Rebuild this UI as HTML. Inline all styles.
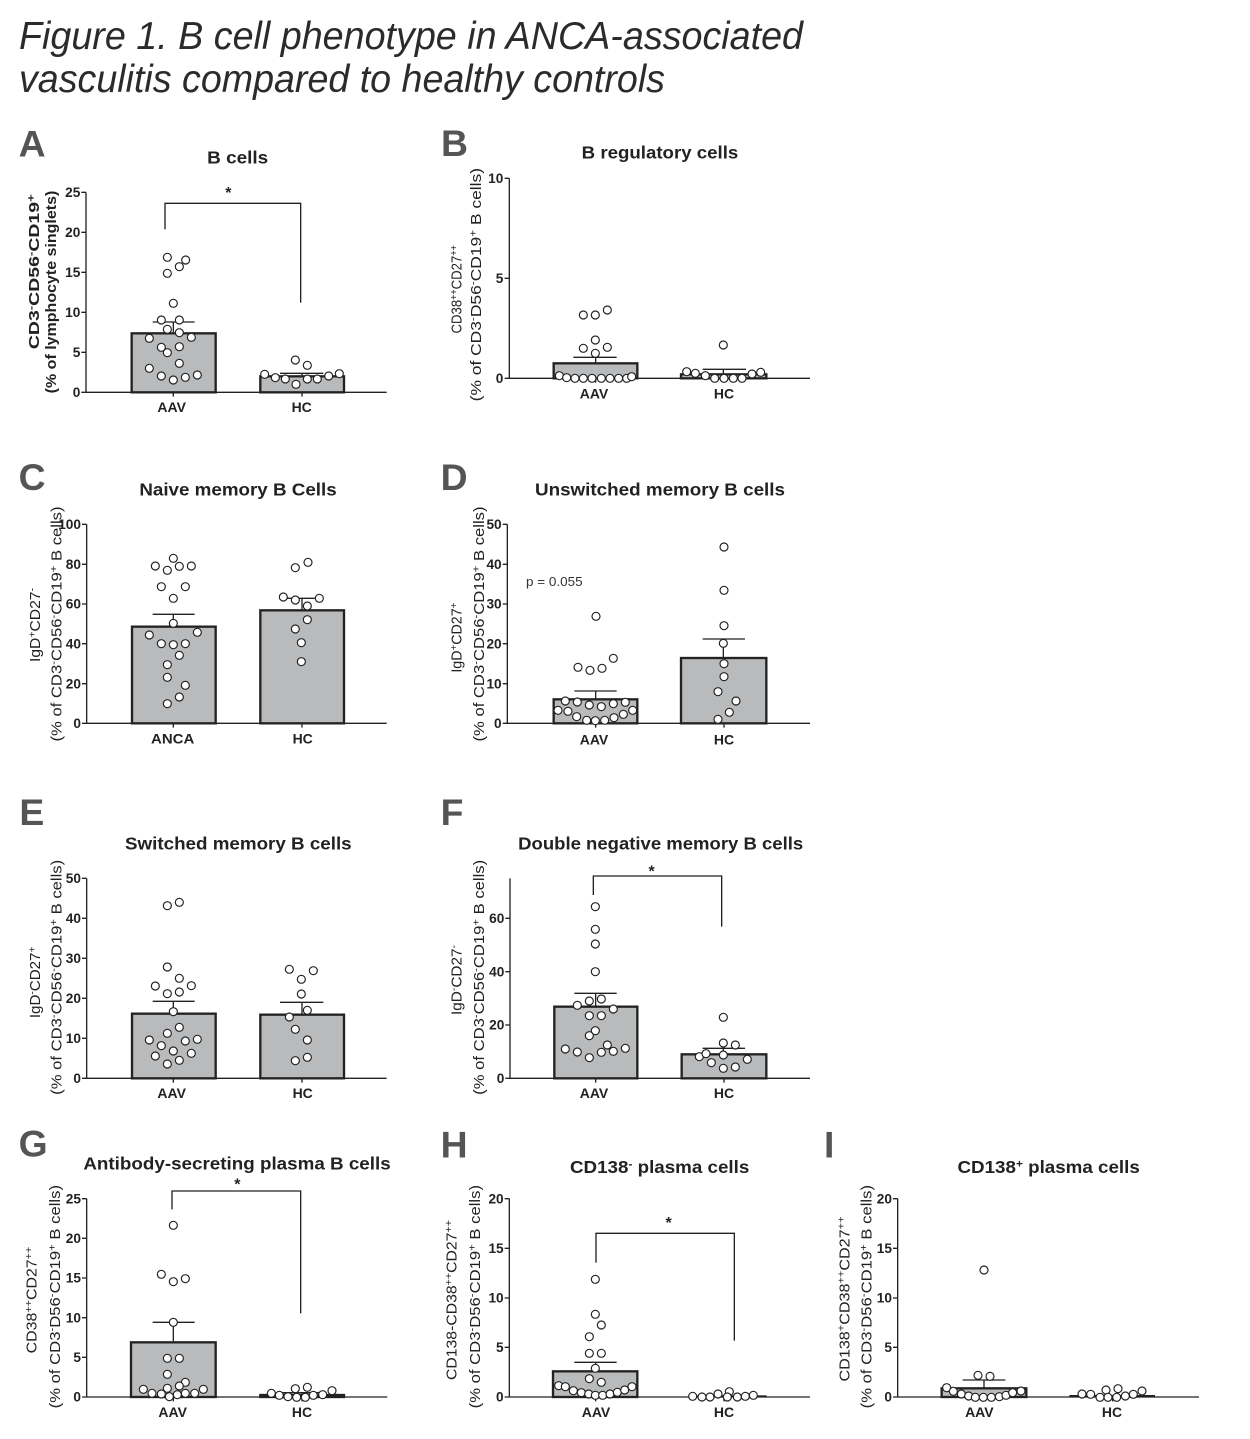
<!DOCTYPE html>
<html><head><meta charset="utf-8"><style>
html,body{margin:0;padding:0;background:#fff}
svg{display:block}
text{font-family:"Liberation Sans",Arial,sans-serif;fill:#222}
.ax{stroke:#222;stroke-width:4;fill:none}
.bar{fill:#b8babc;stroke:#222;stroke-width:7}
.pt circle{fill:#fff;stroke:#222;stroke-width:3.5}
.tk text{font-size:41px;font-weight:bold;text-anchor:end}
.cat{font-size:42px;font-weight:bold;text-anchor:middle}
.ttl{font-size:54px;font-weight:bold;text-anchor:middle}
.yl{font-size:44px;text-anchor:middle}
.ylb{font-size:44px;font-weight:bold;text-anchor:middle}
.lt{font-size:112px;font-weight:bold;fill:#555}
.star{font-size:48px;font-weight:bold;text-anchor:middle}
</style></head><body>
<svg width="1250" height="1439" viewBox="0 0 1250 1439" xmlns="http://www.w3.org/2000/svg">
<rect width="1250" height="1439" fill="#fff"/>
<text x="19" y="49" font-size="39" font-style="italic" style="fill:#2b2b2b" textLength="784" lengthAdjust="spacingAndGlyphs">Figure 1. B cell phenotype in ANCA-associated</text>
<text x="19" y="92" font-size="39" font-style="italic" style="fill:#2b2b2b" textLength="646" lengthAdjust="spacingAndGlyphs">vasculitis compared to healthy controls</text>

<!-- Panel A -->
<g transform="translate(0,120) scale(0.333333)">
<text class="lt" x="56" y="110">A</text>
<text class="ttl" x="713" y="131" textLength="183" lengthAdjust="spacingAndGlyphs">B cells</text>
<path class="ax" d="M258,217V817H1160M244,217H258M244,337H258M244,457H258M244,577H258M244,697H258M244,817H258M520,817V830M906,817V830"/>
<g class="tk"><text x="241" y="231">25</text><text x="241" y="351">20</text><text x="241" y="471">15</text><text x="241" y="591">10</text><text x="241" y="711">5</text><text x="241" y="831">0</text></g>
<rect class="bar" x="395" y="640" width="252" height="177"/>
<rect class="bar" x="781" y="769" width="251" height="48"/>
<path class="ax" d="M520,637V606M458,606H584M906,766V760M840,760H970"/>
<path class="ax" d="M495,328V250H902V548"/>
<text class="star" x="685" y="234">*</text>
<g class="pt">
<circle cx="502" cy="412" r="12"/><circle cx="557" cy="420" r="12"/><circle cx="538" cy="440" r="12"/><circle cx="502" cy="460" r="12"/><circle cx="520" cy="550" r="12"/><circle cx="484" cy="600" r="12"/><circle cx="538" cy="600" r="12"/><circle cx="502" cy="628" r="12"/><circle cx="538" cy="638" r="12"/><circle cx="574" cy="652" r="12"/><circle cx="448" cy="655" r="12"/><circle cx="484" cy="682" r="12"/><circle cx="538" cy="680" r="12"/><circle cx="502" cy="698" r="12"/><circle cx="538" cy="730" r="12"/><circle cx="448" cy="745" r="12"/><circle cx="484" cy="768" r="12"/><circle cx="520" cy="780" r="12"/><circle cx="556" cy="772" r="12"/><circle cx="592" cy="765" r="12"/>
<circle cx="794" cy="763" r="12"/><circle cx="826" cy="773" r="12"/><circle cx="856" cy="777" r="12"/><circle cx="886" cy="720" r="12"/><circle cx="922" cy="736" r="12"/><circle cx="888" cy="793" r="12"/><circle cx="922" cy="777" r="12"/><circle cx="952" cy="777" r="12"/><circle cx="986" cy="768" r="12"/><circle cx="1018" cy="761" r="12"/>
</g>
<text class="ylb" transform="translate(117,455) rotate(-90)" textLength="465" lengthAdjust="spacingAndGlyphs">CD3<tspan dy="-14" font-size="30">-</tspan><tspan dy="14">CD56</tspan><tspan dy="-14" font-size="30">-</tspan><tspan dy="14">CD19</tspan><tspan dy="-14" font-size="30">+</tspan></text>
<text class="ylb" transform="translate(168,516) rotate(-90)" textLength="608" lengthAdjust="spacingAndGlyphs">(% of lymphocyte singlets)</text>
<text class="cat" x="515" y="876">AAV</text><text class="cat" x="905" y="876">HC</text>
</g>

<!-- Panel B -->
<g transform="translate(420,120) scale(0.333333)">
<text class="lt" x="63" y="108">B</text>
<text class="ttl" x="720" y="116" textLength="470" lengthAdjust="spacingAndGlyphs">B regulatory cells</text>
<path class="ax" d="M268,175V775H1170M254,175H268M254,475H268M254,775H268M527,775V788M910,775V788"/>
<g class="tk"><text x="250" y="189">10</text><text x="250" y="489">5</text><text x="250" y="789">0</text></g>
<rect class="bar" x="401" y="730" width="251" height="45"/>
<rect class="bar" x="783" y="763" width="256" height="12"/>
<path class="ax" d="M527,727V712M460,712H590M910,760V748M848,748H978"/>
<g class="pt">
<circle cx="490" cy="585" r="12"/><circle cx="526" cy="585" r="12"/><circle cx="562" cy="570" r="12"/><circle cx="526" cy="660" r="12"/><circle cx="490" cy="685" r="12"/><circle cx="562" cy="682" r="12"/><circle cx="526" cy="700" r="12"/><circle cx="418" cy="767" r="12"/><circle cx="440" cy="773" r="12"/><circle cx="465" cy="775" r="12"/><circle cx="490" cy="775" r="12"/><circle cx="516" cy="775" r="12"/><circle cx="544" cy="775" r="12"/><circle cx="570" cy="775" r="12"/><circle cx="596" cy="775" r="12"/><circle cx="620" cy="775" r="12"/><circle cx="635" cy="770" r="12"/>
<circle cx="910" cy="675" r="12"/><circle cx="800" cy="755" r="12"/><circle cx="826" cy="760" r="12"/><circle cx="856" cy="767" r="12"/><circle cx="884" cy="775" r="12"/><circle cx="912" cy="775" r="12"/><circle cx="940" cy="775" r="12"/><circle cx="966" cy="775" r="12"/><circle cx="996" cy="762" r="12"/><circle cx="1022" cy="757" r="12"/>
</g>
<text class="yl" transform="translate(125,508) rotate(-90)" textLength="265" lengthAdjust="spacingAndGlyphs">CD38<tspan dy="-14" font-size="30">++</tspan><tspan dy="14">CD27</tspan><tspan dy="-14" font-size="30">++</tspan></text>
<text class="yl" transform="translate(183,494) rotate(-90)" textLength="700" lengthAdjust="spacingAndGlyphs">(% of CD3<tspan dy="-14" font-size="30">-</tspan><tspan dy="14">D56</tspan><tspan dy="-14" font-size="30">-</tspan><tspan dy="14">CD19</tspan><tspan dy="-14" font-size="30">+</tspan><tspan dy="14"> B cells)</tspan></text>
<text class="cat" x="522" y="836">AAV</text><text class="cat" x="912" y="836">HC</text>
</g>

<!-- Panel C -->
<g transform="translate(0,455) scale(0.333333)">
<text class="lt" x="56" y="105">C</text>
<text class="ttl" x="714" y="121" textLength="592" lengthAdjust="spacingAndGlyphs">Naive memory B Cells</text>
<path class="ax" d="M260,208V805H1160M246,208H260M246,328H260M246,447H260M246,566H260M246,686H260M246,805H260M520,805V818M906,805V818"/>
<g class="tk"><text x="243" y="222">100</text><text x="243" y="342">80</text><text x="243" y="461">60</text><text x="243" y="580">40</text><text x="243" y="700">20</text><text x="243" y="819">0</text></g>
<rect class="bar" x="396" y="515" width="251" height="290"/>
<rect class="bar" x="781" y="466" width="251" height="339"/>
<path class="ax" d="M520,512V478M458,478H584M906,463V430M840,430H970"/>
<g class="pt">
<circle cx="520" cy="310" r="12"/><circle cx="466" cy="333" r="12"/><circle cx="502" cy="346" r="12"/><circle cx="538" cy="334" r="12"/><circle cx="574" cy="333" r="12"/><circle cx="484" cy="395" r="12"/><circle cx="556" cy="395" r="12"/><circle cx="520" cy="430" r="12"/><circle cx="520" cy="505" r="12"/><circle cx="448" cy="540" r="12"/><circle cx="592" cy="532" r="12"/><circle cx="484" cy="566" r="12"/><circle cx="520" cy="569" r="12"/><circle cx="556" cy="566" r="12"/><circle cx="538" cy="601" r="12"/><circle cx="502" cy="629" r="12"/><circle cx="502" cy="667" r="12"/><circle cx="556" cy="691" r="12"/><circle cx="538" cy="726" r="12"/><circle cx="502" cy="746" r="12"/>
<circle cx="924" cy="322" r="12"/><circle cx="886" cy="338" r="12"/><circle cx="850" cy="426" r="12"/><circle cx="886" cy="435" r="12"/><circle cx="958" cy="430" r="12"/><circle cx="922" cy="453" r="12"/><circle cx="922" cy="494" r="12"/><circle cx="886" cy="522" r="12"/><circle cx="904" cy="563" r="12"/><circle cx="904" cy="620" r="12"/>
</g>
<text class="yl" transform="translate(120,510) rotate(-90)" textLength="222" lengthAdjust="spacingAndGlyphs">IgD<tspan dy="-14" font-size="30">+</tspan><tspan dy="14">CD27</tspan><tspan dy="-14" font-size="30">-</tspan></text>
<text class="yl" transform="translate(185,507) rotate(-90)" textLength="705" lengthAdjust="spacingAndGlyphs">(% of CD3<tspan dy="-14" font-size="30">-</tspan><tspan dy="14">CD56</tspan><tspan dy="-14" font-size="30">-</tspan><tspan dy="14">CD19</tspan><tspan dy="-14" font-size="30">+</tspan><tspan dy="14"> B cells)</tspan></text>
<text class="cat" x="518" y="866" textLength="130" lengthAdjust="spacingAndGlyphs">ANCA</text><text class="cat" x="908" y="866">HC</text>
</g>

<!-- Panel D -->
<g transform="translate(420,455) scale(0.333333)">
<text class="lt" x="62" y="105">D</text>
<text class="ttl" x="720" y="121" textLength="750" lengthAdjust="spacingAndGlyphs">Unswitched memory B cells</text>
<path class="ax" d="M262,208V805H1170M248,208H262M248,328H262M248,447H262M248,566H262M248,686H262M248,805H262M527,805V818M912,805V818"/>
<g class="tk"><text x="245" y="222">50</text><text x="245" y="342">40</text><text x="245" y="461">30</text><text x="245" y="580">20</text><text x="245" y="700">10</text><text x="245" y="819">0</text></g>
<text x="318" y="393" font-size="38" textLength="170" lengthAdjust="spacingAndGlyphs" style="fill:#333">p = 0.055</text>
<rect class="bar" x="401" y="733" width="251" height="72"/>
<rect class="bar" x="783" y="609" width="256" height="196"/>
<path class="ax" d="M527,730V708M463,708H590M910,606V552M848,552H975"/>
<g class="pt">
<circle cx="528" cy="484" r="12"/><circle cx="474" cy="637" r="12"/><circle cx="510" cy="646" r="12"/><circle cx="546" cy="640" r="12"/><circle cx="580" cy="610" r="12"/><circle cx="436" cy="738" r="12"/><circle cx="472" cy="741" r="12"/><circle cx="508" cy="750" r="12"/><circle cx="544" cy="755" r="12"/><circle cx="580" cy="746" r="12"/><circle cx="616" cy="742" r="12"/><circle cx="414" cy="766" r="12"/><circle cx="444" cy="769" r="12"/><circle cx="638" cy="766" r="12"/><circle cx="470" cy="785" r="12"/><circle cx="610" cy="778" r="12"/><circle cx="582" cy="788" r="12"/><circle cx="500" cy="796" r="12"/><circle cx="526" cy="797" r="12"/><circle cx="554" cy="796" r="12"/>
<circle cx="912" cy="276" r="12"/><circle cx="912" cy="406" r="12"/><circle cx="912" cy="512" r="12"/><circle cx="910" cy="565" r="12"/><circle cx="912" cy="626" r="12"/><circle cx="912" cy="665" r="12"/><circle cx="894" cy="710" r="12"/><circle cx="948" cy="738" r="12"/><circle cx="928" cy="772" r="12"/><circle cx="894" cy="793" r="12"/>
</g>
<text class="yl" transform="translate(125,548) rotate(-90)" textLength="210" lengthAdjust="spacingAndGlyphs">IgD<tspan dy="-14" font-size="30">+</tspan><tspan dy="14">CD27</tspan><tspan dy="-14" font-size="30">+</tspan></text>
<text class="yl" transform="translate(192,507) rotate(-90)" textLength="705" lengthAdjust="spacingAndGlyphs">(% of CD3<tspan dy="-14" font-size="30">-</tspan><tspan dy="14">CD56</tspan><tspan dy="-14" font-size="30">-</tspan><tspan dy="14">CD19</tspan><tspan dy="-14" font-size="30">+</tspan><tspan dy="14"> B cells)</tspan></text>
<text class="cat" x="522" y="869">AAV</text><text class="cat" x="912" y="869">HC</text>
</g>

<!-- Panel E -->
<g transform="translate(0,795) scale(0.333333)">
<text class="lt" x="58" y="90">E</text>
<text class="ttl" x="715" y="163" textLength="680" lengthAdjust="spacingAndGlyphs">Switched memory B cells</text>
<path class="ax" d="M260,250V850H1160M246,250H260M246,370H260M246,490H260M246,610H260M246,730H260M246,850H260M520,850V863M906,850V863"/>
<g class="tk"><text x="243" y="264">50</text><text x="243" y="384">40</text><text x="243" y="504">30</text><text x="243" y="624">20</text><text x="243" y="744">10</text><text x="243" y="864">0</text></g>
<rect class="bar" x="396" y="656" width="251" height="194"/>
<rect class="bar" x="781" y="659" width="251" height="191"/>
<path class="ax" d="M520,653V619M458,619H584M906,656V622M840,622H970"/>
<g class="pt">
<circle cx="502" cy="332" r="12"/><circle cx="538" cy="322" r="12"/><circle cx="502" cy="516" r="12"/><circle cx="538" cy="550" r="12"/><circle cx="466" cy="573" r="12"/><circle cx="574" cy="572" r="12"/><circle cx="502" cy="596" r="12"/><circle cx="538" cy="591" r="12"/><circle cx="520" cy="650" r="12"/><circle cx="538" cy="697" r="12"/><circle cx="502" cy="715" r="12"/><circle cx="448" cy="735" r="12"/><circle cx="556" cy="738" r="12"/><circle cx="592" cy="733" r="12"/><circle cx="484" cy="752" r="12"/><circle cx="520" cy="768" r="12"/><circle cx="466" cy="783" r="12"/><circle cx="574" cy="775" r="12"/><circle cx="538" cy="796" r="12"/><circle cx="502" cy="807" r="12"/>
<circle cx="868" cy="523" r="12"/><circle cx="940" cy="527" r="12"/><circle cx="904" cy="553" r="12"/><circle cx="904" cy="597" r="12"/><circle cx="922" cy="646" r="12"/><circle cx="868" cy="666" r="12"/><circle cx="886" cy="703" r="12"/><circle cx="922" cy="735" r="12"/><circle cx="922" cy="787" r="12"/><circle cx="886" cy="797" r="12"/>
</g>
<text class="yl" transform="translate(120,562) rotate(-90)" textLength="215" lengthAdjust="spacingAndGlyphs">IgD<tspan dy="-14" font-size="30">-</tspan><tspan dy="14">CD27</tspan><tspan dy="-14" font-size="30">+</tspan></text>
<text class="yl" transform="translate(185,547) rotate(-90)" textLength="705" lengthAdjust="spacingAndGlyphs">(% of CD3<tspan dy="-14" font-size="30">-</tspan><tspan dy="14">CD56</tspan><tspan dy="-14" font-size="30">-</tspan><tspan dy="14">CD19</tspan><tspan dy="-14" font-size="30">+</tspan><tspan dy="14"> B cells)</tspan></text>
<text class="cat" x="515" y="909">AAV</text><text class="cat" x="908" y="909">HC</text>
</g>

<!-- Panel F -->
<g transform="translate(420,795) scale(0.333333)">
<text class="lt" x="62" y="90">F</text>
<text class="ttl" x="722" y="163" textLength="855" lengthAdjust="spacingAndGlyphs">Double negative memory B cells</text>
<path class="ax" d="M270,250V850H1170M256,370H270M256,530H270M256,690H270M256,850H270M527,850V863M912,850V863"/>
<g class="tk"><text x="253" y="384">60</text><text x="253" y="544">40</text><text x="253" y="704">20</text><text x="253" y="864">0</text></g>
<rect class="bar" x="403" y="635" width="249" height="215"/>
<rect class="bar" x="785" y="778" width="254" height="72"/>
<path class="ax" d="M527,632V595M463,595H590M910,775V760M848,760H975"/>
<path class="ax" d="M520,300V243H905V395"/>
<text class="star" x="695" y="244">*</text>
<g class="pt">
<circle cx="526" cy="335" r="12"/><circle cx="526" cy="403" r="12"/><circle cx="526" cy="447" r="12"/><circle cx="526" cy="530" r="12"/><circle cx="508" cy="618" r="12"/><circle cx="544" cy="612" r="12"/><circle cx="472" cy="631" r="12"/><circle cx="580" cy="642" r="12"/><circle cx="508" cy="662" r="12"/><circle cx="544" cy="662" r="12"/><circle cx="526" cy="707" r="12"/><circle cx="508" cy="722" r="12"/><circle cx="436" cy="762" r="12"/><circle cx="472" cy="771" r="12"/><circle cx="508" cy="788" r="12"/><circle cx="544" cy="772" r="12"/><circle cx="562" cy="750" r="12"/><circle cx="580" cy="769" r="12"/><circle cx="616" cy="760" r="12"/>
<circle cx="910" cy="667" r="12"/><circle cx="910" cy="744" r="12"/><circle cx="946" cy="750" r="12"/><circle cx="838" cy="785" r="12"/><circle cx="858" cy="776" r="12"/><circle cx="910" cy="780" r="12"/><circle cx="982" cy="793" r="12"/><circle cx="874" cy="803" r="12"/><circle cx="910" cy="820" r="12"/><circle cx="946" cy="816" r="12"/>
</g>
<text class="yl" transform="translate(125,555) rotate(-90)" textLength="210" lengthAdjust="spacingAndGlyphs">IgD<tspan dy="-14" font-size="30">-</tspan><tspan dy="14">CD27</tspan><tspan dy="-14" font-size="30">-</tspan></text>
<text class="yl" transform="translate(192,547) rotate(-90)" textLength="705" lengthAdjust="spacingAndGlyphs">(% of CD3<tspan dy="-14" font-size="30">-</tspan><tspan dy="14">CD56</tspan><tspan dy="-14" font-size="30">-</tspan><tspan dy="14">CD19</tspan><tspan dy="-14" font-size="30">+</tspan><tspan dy="14"> B cells)</tspan></text>
<text class="cat" x="522" y="909">AAV</text><text class="cat" x="912" y="909">HC</text>
</g>

<!-- Panel G -->
<g transform="translate(0,1120) scale(0.333333)">
<text class="lt" x="56" y="110">G</text>
<text class="ttl" x="711" y="149" textLength="922" lengthAdjust="spacingAndGlyphs">Antibody-secreting plasma B cells</text>
<path class="ax" d="M260,236V831H1162M246,236H260M246,355H260M246,474H260M246,593H260M246,712H260M246,831H260M520,831V844M906,831V844"/>
<g class="tk"><text x="243" y="250">25</text><text x="243" y="369">20</text><text x="243" y="488">15</text><text x="243" y="607">10</text><text x="243" y="726">5</text><text x="243" y="845">0</text></g>
<rect class="bar" x="393" y="667" width="254" height="164"/>
<rect class="bar" x="781" y="825" width="251" height="6"/>
<path class="ax" d="M520,664V607M458,607H584M906,823V818M840,818H970"/>
<path class="ax" d="M516,268V213H902V580"/>
<text class="star" x="712" y="209">*</text>
<g class="pt">
<circle cx="520" cy="316" r="12"/><circle cx="484" cy="463" r="12"/><circle cx="556" cy="476" r="12"/><circle cx="520" cy="485" r="12"/><circle cx="520" cy="607" r="12"/><circle cx="502" cy="715" r="12"/><circle cx="538" cy="715" r="12"/><circle cx="502" cy="763" r="12"/><circle cx="556" cy="787" r="12"/><circle cx="538" cy="798" r="12"/><circle cx="430" cy="808" r="12"/><circle cx="502" cy="805" r="12"/><circle cx="610" cy="808" r="12"/><circle cx="456" cy="820" r="12"/><circle cx="484" cy="822" r="12"/><circle cx="584" cy="820" r="12"/><circle cx="556" cy="820" r="12"/><circle cx="532" cy="824" r="12"/><circle cx="508" cy="830" r="12"/>
<circle cx="886" cy="806" r="12"/><circle cx="922" cy="802" r="12"/><circle cx="814" cy="820" r="12"/><circle cx="838" cy="826" r="12"/><circle cx="996" cy="812" r="12"/><circle cx="940" cy="826" r="12"/><circle cx="968" cy="824" r="12"/><circle cx="864" cy="830" r="12"/><circle cx="890" cy="832" r="12"/><circle cx="916" cy="832" r="12"/>
</g>
<text class="yl" transform="translate(110,540) rotate(-90)" textLength="320" lengthAdjust="spacingAndGlyphs">CD38<tspan dy="-14" font-size="30">++</tspan><tspan dy="14">CD27</tspan><tspan dy="-14" font-size="30">++</tspan></text>
<text class="yl" transform="translate(180,530) rotate(-90)" textLength="670" lengthAdjust="spacingAndGlyphs">(% of CD3<tspan dy="-14" font-size="30">-</tspan><tspan dy="14">D56</tspan><tspan dy="-14" font-size="30">-</tspan><tspan dy="14">CD19</tspan><tspan dy="-14" font-size="30">+</tspan><tspan dy="14"> B cells)</tspan></text>
<text class="cat" x="518" y="891">AAV</text><text class="cat" x="906" y="891">HC</text>
</g>

<!-- Panel H -->
<g transform="translate(420,1120) scale(0.333333)">
<text class="lt" x="62" y="112">H</text>
<text class="ttl" x="719" y="159" textLength="538" lengthAdjust="spacingAndGlyphs">CD138<tspan dy="-16" font-size="34">-</tspan><tspan dy="16"> plasma cells</tspan></text>
<path class="ax" d="M268,236V831H1170M254,236H268M254,385H268M254,534H268M254,682H268M254,831H268M527,831V844M912,831V844"/>
<g class="tk"><text x="251" y="250">20</text><text x="251" y="399">15</text><text x="251" y="548">10</text><text x="251" y="696">5</text><text x="251" y="845">0</text></g>
<rect class="bar" x="399" y="754" width="253" height="77"/>
<rect x="808" y="826" width="232" height="5" fill="#222"/>
<path class="ax" d="M527,751V727M463,727H590"/>
<path class="ax" d="M528,428V340H943V662"/>
<text class="star" x="746" y="324">*</text>
<g class="pt">
<circle cx="526" cy="478" r="12"/><circle cx="526" cy="583" r="12"/><circle cx="544" cy="615" r="12"/><circle cx="508" cy="650" r="12"/><circle cx="508" cy="700" r="12"/><circle cx="544" cy="700" r="12"/><circle cx="526" cy="745" r="12"/><circle cx="508" cy="776" r="12"/><circle cx="544" cy="787" r="12"/><circle cx="416" cy="797" r="12"/><circle cx="436" cy="800" r="12"/><circle cx="460" cy="812" r="12"/><circle cx="484" cy="818" r="12"/><circle cx="506" cy="822" r="12"/><circle cx="526" cy="826" r="12"/><circle cx="548" cy="826" r="12"/><circle cx="570" cy="822" r="12"/><circle cx="592" cy="817" r="12"/><circle cx="614" cy="810" r="12"/><circle cx="636" cy="800" r="12"/>
<circle cx="818" cy="829" r="12"/><circle cx="846" cy="831" r="12"/><circle cx="870" cy="831" r="12"/><circle cx="894" cy="822" r="12"/><circle cx="928" cy="815" r="12"/><circle cx="922" cy="831" r="12"/><circle cx="952" cy="831" r="12"/><circle cx="976" cy="829" r="12"/><circle cx="1000" cy="826" r="12"/>
</g>
<text class="yl" transform="translate(110,540) rotate(-90)" textLength="480" lengthAdjust="spacingAndGlyphs">CD138-CD38<tspan dy="-14" font-size="30">++</tspan><tspan dy="14">CD27</tspan><tspan dy="-14" font-size="30">++</tspan></text>
<text class="yl" transform="translate(180,530) rotate(-90)" textLength="670" lengthAdjust="spacingAndGlyphs">(% of CD3<tspan dy="-14" font-size="30">-</tspan><tspan dy="14">D56</tspan><tspan dy="-14" font-size="30">-</tspan><tspan dy="14">CD19</tspan><tspan dy="-14" font-size="30">+</tspan><tspan dy="14"> B cells)</tspan></text>
<text class="cat" x="528" y="891">AAV</text><text class="cat" x="912" y="891">HC</text>
</g>

<!-- Panel I -->
<g transform="translate(820,1120) scale(0.333333)">
<text class="lt" x="12" y="112">I</text>
<text class="ttl" x="686" y="159" textLength="547" lengthAdjust="spacingAndGlyphs">CD138<tspan dy="-16" font-size="34">+</tspan><tspan dy="16"> plasma cells</tspan></text>
<path class="ax" d="M233,236V831H1137M219,236H233M219,385H233M219,534H233M219,682H233M219,831H233M492,831V844M878,831V844"/>
<g class="tk"><text x="216" y="250">20</text><text x="216" y="399">15</text><text x="216" y="548">10</text><text x="216" y="696">5</text><text x="216" y="845">0</text></g>
<rect class="bar" x="365" y="805" width="254" height="26"/>
<rect x="748" y="825" width="257" height="6" fill="#222"/>
<path class="ax" d="M492,802V780M428,780H556"/>
<g class="pt">
<circle cx="492" cy="450" r="12"/><circle cx="474" cy="766" r="12"/><circle cx="510" cy="769" r="12"/><circle cx="380" cy="803" r="12"/><circle cx="400" cy="814" r="12"/><circle cx="424" cy="822" r="12"/><circle cx="446" cy="828" r="12"/><circle cx="466" cy="832" r="12"/><circle cx="490" cy="832" r="12"/><circle cx="514" cy="832" r="12"/><circle cx="538" cy="830" r="12"/><circle cx="558" cy="826" r="12"/><circle cx="578" cy="818" r="12"/><circle cx="603" cy="813" r="12"/>
<circle cx="786" cy="822" r="12"/><circle cx="812" cy="823" r="12"/><circle cx="840" cy="832" r="12"/><circle cx="858" cy="810" r="12"/><circle cx="894" cy="806" r="12"/><circle cx="864" cy="832" r="12"/><circle cx="890" cy="832" r="12"/><circle cx="916" cy="828" r="12"/><circle cx="940" cy="823" r="12"/><circle cx="966" cy="813" r="12"/>
</g>
<text class="yl" transform="translate(88,537) rotate(-90)" textLength="495" lengthAdjust="spacingAndGlyphs">CD138<tspan dy="-14" font-size="30">+</tspan><tspan dy="14">CD38</tspan><tspan dy="-14" font-size="30">++</tspan><tspan dy="14">CD27</tspan><tspan dy="-14" font-size="30">++</tspan></text>
<text class="yl" transform="translate(155,530) rotate(-90)" textLength="670" lengthAdjust="spacingAndGlyphs">(% of CD3<tspan dy="-14" font-size="30">-</tspan><tspan dy="14">D56</tspan><tspan dy="-14" font-size="30">-</tspan><tspan dy="14">CD19</tspan><tspan dy="-14" font-size="30">+</tspan><tspan dy="14"> B cells)</tspan></text>
<text class="cat" x="478" y="891">AAV</text><text class="cat" x="876" y="891">HC</text>
</g>
</svg>
</body></html>
